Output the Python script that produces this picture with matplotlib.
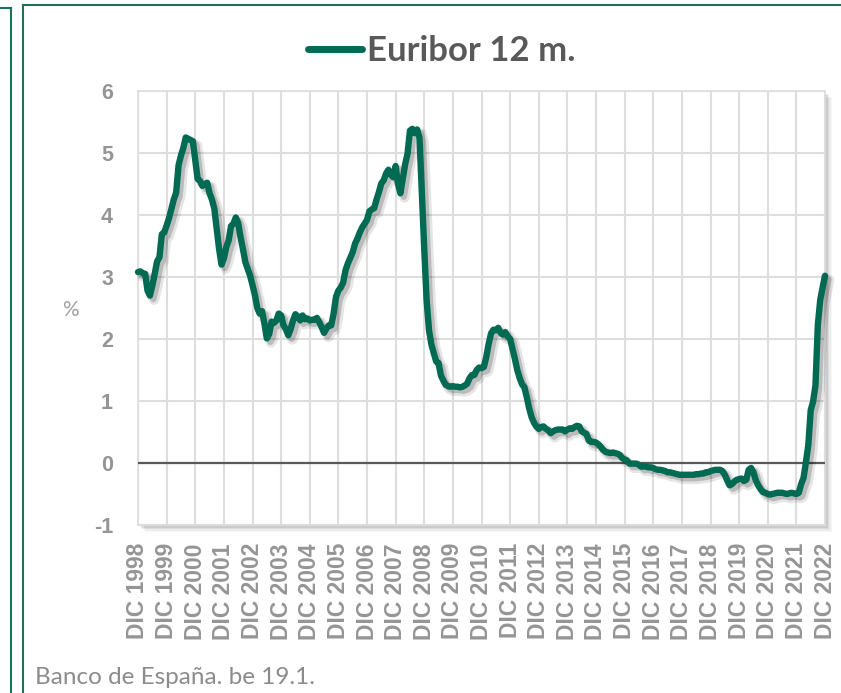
import matplotlib
matplotlib.use("Agg")
import matplotlib.pyplot as plt
import matplotlib.patheffects as pe
from matplotlib.lines import Line2D
from matplotlib.patches import Rectangle
import numpy as np

# Euribor 12 meses, media mensual (%), DIC 1998 -> DIC 2022
euribor_12m = [
    3.08,                                                                    # 1998 dic
    3.09, 3.06, 3.05, 2.78, 2.70, 2.86, 3.05, 3.25, 3.32, 3.69, 3.72, 3.83,  # 1999
    3.95, 4.10, 4.25, 4.36, 4.80, 4.96, 5.08, 5.25, 5.23, 5.21, 5.19, 4.88,  # 2000
    4.58, 4.55, 4.47, 4.50, 4.52, 4.35, 4.25, 4.10, 3.77, 3.45, 3.20, 3.30,  # 2001
    3.48, 3.59, 3.82, 3.86, 3.96, 3.87, 3.64, 3.45, 3.24, 3.13, 3.02, 2.87,  # 2002
    2.71, 2.50, 2.41, 2.45, 2.25, 2.01, 2.08, 2.28, 2.26, 2.30, 2.41, 2.38,  # 2003
    2.22, 2.16, 2.06, 2.16, 2.30, 2.40, 2.36, 2.30, 2.38, 2.32, 2.33, 2.30,  # 2004
    2.31, 2.31, 2.34, 2.27, 2.19, 2.10, 2.17, 2.22, 2.22, 2.41, 2.68, 2.78,  # 2005
    2.83, 2.91, 3.11, 3.22, 3.31, 3.40, 3.54, 3.62, 3.72, 3.80, 3.86, 3.92,  # 2006
    4.06, 4.09, 4.11, 4.25, 4.37, 4.51, 4.56, 4.67, 4.73, 4.65, 4.61, 4.79,  # 2007
    4.50, 4.35, 4.59, 4.82, 4.99, 5.36, 5.39, 5.32, 5.38, 5.25, 4.35, 3.45,  # 2008
    2.62, 2.14, 1.91, 1.77, 1.64, 1.61, 1.41, 1.33, 1.26, 1.24, 1.23, 1.24,  # 2009
    1.23, 1.23, 1.22, 1.23, 1.25, 1.28, 1.37, 1.42, 1.42, 1.50, 1.54, 1.53,  # 2010
    1.55, 1.71, 1.92, 2.09, 2.15, 2.14, 2.18, 2.10, 2.07, 2.11, 2.04, 2.00,  # 2011
    1.84, 1.68, 1.50, 1.37, 1.27, 1.22, 1.06, 0.88, 0.74, 0.65, 0.59, 0.55,  # 2012
    0.58, 0.59, 0.55, 0.53, 0.48, 0.51, 0.53, 0.54, 0.54, 0.54, 0.51, 0.54,  # 2013
    0.56, 0.55, 0.58, 0.60, 0.59, 0.51, 0.49, 0.47, 0.36, 0.34, 0.34, 0.33,  # 2014
    0.30, 0.26, 0.21, 0.18, 0.17, 0.16, 0.17, 0.16, 0.15, 0.13, 0.08, 0.06,  # 2015
    0.04, -0.01, -0.01, -0.01, -0.01, -0.03, -0.06, -0.05, -0.06, -0.07, -0.07, -0.08,  # 2016
    -0.10, -0.11, -0.11, -0.12, -0.13, -0.15, -0.15, -0.16, -0.17, -0.18, -0.19, -0.19,  # 2017
    -0.19, -0.19, -0.19, -0.19, -0.19, -0.18, -0.18, -0.17, -0.17, -0.15, -0.15, -0.13,  # 2018
    -0.12, -0.11, -0.11, -0.11, -0.13, -0.19, -0.28, -0.36, -0.34, -0.30, -0.27, -0.26,  # 2019
    -0.25, -0.29, -0.27, -0.11, -0.08, -0.15, -0.28, -0.36, -0.42, -0.47, -0.48, -0.50,  # 2020
    -0.51, -0.50, -0.49, -0.48, -0.48, -0.48, -0.49, -0.50, -0.49, -0.48, -0.49, -0.50,  # 2021
    -0.48, -0.34, -0.24, 0.01, 0.29, 0.85, 0.99, 1.25, 2.23, 2.63, 2.83, 3.02,  # 2022
]
years = list(range(1998, 2023))
tick_labels = [f"DIC {y}" for y in years]
y_ticks = [-1, 0, 1, 2, 3, 4, 5, 6]

GREEN = "#006a52"
GRAY_TXT = "#959595"
GRID = "#dedede"

W, H = 841, 693
fig = plt.figure(figsize=(W / 100, H / 100), dpi=100)
fig.patch.set_facecolor("white")

# plot area (pixel box of the reference)
left, right, top, bottom = 138, 825, 91, 525
ax = fig.add_axes([left / W, 1 - bottom / H, (right - left) / W, (bottom - top) / H])

# soft drop shadow of the plot area
for off, a in [(7, 0.05), (5.5, 0.08), (4, 0.12), (2.5, 0.15)]:
    fig.add_artist(Rectangle(((left + off) / W, 1 - (bottom + off) / H),
                             (right - left) / W, (bottom - top) / H,
                             transform=fig.transFigure, facecolor="#707070",
                             edgecolor="none", alpha=a, zorder=-5))

months = np.arange(len(euribor_12m))
line, = ax.plot(months, euribor_12m, color=GREEN, lw=4.6, label="Euribor 12 m.",
                solid_joinstyle="round", solid_capstyle="round", zorder=4, clip_on=False)
line.set_path_effects([
    pe.SimpleLineShadow(offset=(3, -3), shadow_color="k", alpha=0.10, linewidth=7.5),
    pe.SimpleLineShadow(offset=(2.5, -2.5), shadow_color="k", alpha=0.18),
    pe.Normal(),
])

ax.axhline(0, color="#595959", lw=1.6, zorder=3)

ax.set_xlim(0, len(euribor_12m) - 1)
ax.set_ylim(-1, 6)
ax.set_xticks(months[::12])
ax.set_xticklabels(tick_labels, rotation=90)
ax.set_yticks(y_ticks)
ax.set_yticklabels([str(v) for v in y_ticks])

for lab in ax.get_xticklabels():
    lab.set_fontproperties(dict(family=["Liberation Sans", "DejaVu Sans"], weight="bold", size=16.5))
    lab.set_color(GRAY_TXT)
for lab in ax.get_yticklabels():
    lab.set_fontproperties(dict(family=["Liberation Sans", "DejaVu Sans"], weight="bold", size=15.5))
    lab.set_color(GRAY_TXT)
ax.tick_params(axis="x", length=0, pad=13)
ax.tick_params(axis="y", length=0, pad=18)

ax.grid(True, color=GRID, lw=1.5)
ax.set_axisbelow(True)
for s in ax.spines.values():
    s.set_color(GRID)
    s.set_linewidth(1.2)

ax.set_ylabel("%", rotation=0, fontsize=15, color="#a0a0a0",
              family=["Lato", "DejaVu Sans"], ha="center", va="center")
ax.yaxis.set_label_coords((70 - left) / (right - left), (bottom - 310) / (bottom - top))

# legend used as title
leg = ax.legend(handles=[line], loc="center", bbox_to_anchor=(442 / W, 1 - 51 / H),
                bbox_transform=fig.transFigure, frameon=False, handlelength=1.55,
                handletextpad=0.15, borderpad=0, borderaxespad=0,
                prop=dict(family=["Lato", "DejaVu Sans"], weight="bold", size=25))
for t in leg.get_texts():
    t.set_color("#595959")
for h in leg.get_lines():
    h.set_path_effects([])
    h.set_linewidth(5)

fig.text(35 / W, 1 - 677 / H, "Banco de España. be 19.1.", family=["Lato", "DejaVu Sans"],
         size=17.5, color="#8c8c8c", va="center", ha="left")

# chart frame lines
frame = dict(color="#1f6f5c", lw=1.5, transform=fig.transFigure)
fig.add_artist(Line2D([23 / W, 23 / W], [0, 1 - 5 / H], **frame))
fig.add_artist(Line2D([23 / W, 1], [1 - 5 / H, 1 - 5 / H], **frame))
fig.add_artist(Line2D([11 / W, 11 / W], [0, 1 - 8 / H], **frame))
fig.add_artist(Line2D([0, 11 / W], [1 - 8 / H, 1 - 8 / H], **frame))

fig.savefig("out.png", dpi=100)
